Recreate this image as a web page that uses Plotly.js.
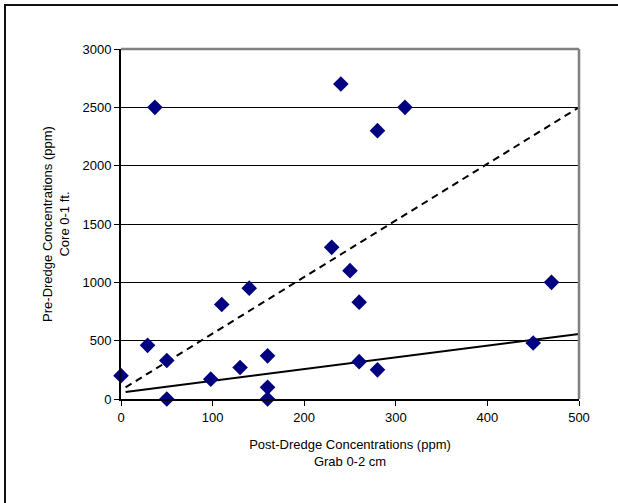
<!DOCTYPE html>
<html>
<head>
<meta charset="utf-8">
<script src="https://cdn.plot.ly/plotly-3.0.1.min.js"></script>
<style>
  html, body { margin: 0; padding: 0; background: #fff; }
  #wrap { position: relative; width: 618px; height: 503px; overflow: hidden; }
  #chart { width: 618px; height: 503px; }
  #frameTop { position: absolute; left: 4px; top: 4px; width: 614px; height: 2px; background: #111; pointer-events: none; }
  #frameLeft { position: absolute; left: 4px; top: 4px; width: 2px; height: 499px; background: #111; pointer-events: none; }
</style>
</head>
<body>
<div id="wrap">
  <div id="chart"></div>
  <div id="frameTop"></div>
  <div id="frameLeft"></div>
</div>
<script>
// Post-dredge (grab 0-2 cm) vs pre-dredge (core 0-1 ft) concentrations, ppm
const postDredge = [0, 29, 37, 50, 50, 98, 110, 130, 140, 160, 160, 160, 230, 240, 250, 260, 260, 280, 280, 310, 450, 470];
const preDredge  = [200, 460, 2500, 330, 0, 170, 810, 270, 950, 370, 100, 0, 1300, 2700, 1100, 830, 320, 2300, 250, 2500, 480, 1000];

// Solid reference/trend line endpoints
const solidX = [5, 500];
const solidY = [60, 557];

// Dashed reference line endpoints
const dashX = [5, 500];
const dashY = [100, 2500];

// Axis ticks
const xTicks = [0, 100, 200, 300, 400, 500];
const yTicks = [0, 500, 1000, 1500, 2000, 2500, 3000];

const font = { family: 'Liberation Sans, Arial, sans-serif', size: 13, color: '#000' };

const traces = [
  {
    x: solidX, y: solidY, mode: 'lines', type: 'scatter',
    line: { color: '#000', width: 2 }, hoverinfo: 'skip', showlegend: false
  },
  {
    x: dashX, y: dashY, mode: 'lines', type: 'scatter',
    line: { color: '#000', width: 2, dash: '7px,5px' }, hoverinfo: 'skip', showlegend: false
  },
  {
    x: postDredge, y: preDredge, mode: 'markers', type: 'scatter',
    marker: { symbol: 'diamond', size: 12, color: '#000080', line: { width: 0 } },
    cliponaxis: false, showlegend: false
  }
];

const layout = {
  width: 618, height: 503,
  margin: { l: 121, r: 39, t: 49, b: 104, pad: 0 },
  paper_bgcolor: '#fff', plot_bgcolor: '#fff',
  font: font,
  showlegend: false,
  xaxis: {
    range: [0, 500], tickvals: xTicks, ticktext: xTicks.map(String),
    showgrid: false, zeroline: false,
    showline: true, linecolor: '#000', linewidth: 2,
    ticks: 'outside', ticklen: 5, tickcolor: '#000', tickwidth: 1,
    tickfont: font,
    title: { text: 'Post-Dredge Concentrations (ppm)<br>Grab 0-2 cm', font: font, standoff: 16 }
  },
  yaxis: {
    range: [0, 3000], tickvals: yTicks, ticktext: yTicks.map(String),
    showgrid: true, gridcolor: '#000', gridwidth: 1,
    zeroline: false,
    showline: true, linecolor: '#000', linewidth: 2,
    ticks: 'outside', ticklen: 5, tickcolor: '#000', tickwidth: 1,
    tickfont: font,
    title: { text: 'Pre-Dredge Concentrations (ppm)<br>Core 0-1 ft.', font: font, standoff: 10 }
  },
  shapes: [
    { type: 'line', xref: 'paper', yref: 'paper', x0: 0, x1: 1, y0: 1, y1: 1,
      line: { color: '#808080', width: 2.5 }, layer: 'above' },
    { type: 'line', xref: 'paper', yref: 'paper', x0: 1, x1: 1, y0: 0, y1: 1,
      line: { color: '#808080', width: 2.5 }, layer: 'above' }
  ]
};

Plotly.newPlot('chart', traces, layout, { displayModeBar: false, staticPlot: true });
</script>
</body>
</html>
